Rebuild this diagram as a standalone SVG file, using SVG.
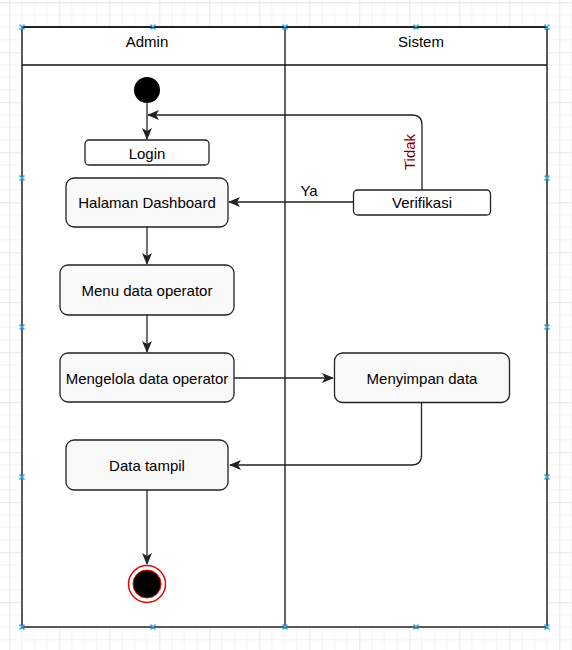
<svg xmlns="http://www.w3.org/2000/svg" width="572" height="650" viewBox="0 0 572 650">
<style>
.t{font-family:"Liberation Sans",Arial,sans-serif;font-size:15px;fill:#000;text-anchor:middle;dominant-baseline:central}
.node{fill:#f9f9f9;stroke:#222;stroke-width:1.3}
.small{fill:#fff;stroke:#222;stroke-width:1.3}
.edge{fill:none;stroke:#222;stroke-width:1.3}
.mk{stroke:#3aa8e0;stroke-width:1.5;fill:none}
</style>
<defs>
<pattern id="grid" patternUnits="userSpaceOnUse" x="9.3" y="2.3" width="50" height="50">
<path d="M12.5 0V50M25 0V50M37.5 0V50M0 12.5H50M0 25H50M0 37.5H50" stroke="#f3f3f3" stroke-width="1"/>
<path d="M0.5 0V50M0 0.5H50" stroke="#e6e6e6" stroke-width="1"/>
</pattern>
<marker id="arr" viewBox="0 0 12 10" refX="11" refY="5" markerWidth="12" markerHeight="10" markerUnits="userSpaceOnUse" orient="auto">
<path d="M0 0L12 5L0 10L3 5Z" fill="#222"/>
</marker>
</defs>
<rect width="572" height="650" fill="#fff"/>
<rect width="572" height="650" fill="url(#grid)"/>
<g id="pool">
<rect x="22" y="27" width="525" height="600" fill="#fff" stroke="#5a5a5a" stroke-width="2"/>
<path d="M22 27H547M22 65H547M285 27V627" stroke="#111" stroke-width="1.3" fill="none"/>
<text class="t" x="147" y="41">Admin</text>
<text class="t" x="421" y="41">Sistem</text>
</g>
<g id="connectors">
<path class="edge" d="M147 103V139" marker-end="url(#arr)"/>
<path class="edge" d="M422 190V125Q422 115 412 115H148" marker-end="url(#arr)"/>
<path class="edge" d="M353 202H229" marker-end="url(#arr)"/>
<path class="edge" d="M147 227V264" marker-end="url(#arr)"/>
<path class="edge" d="M147 315V352" marker-end="url(#arr)"/>
<path class="edge" d="M234 378H333" marker-end="url(#arr)"/>
<path class="edge" d="M421.5 403V455Q421.5 465 411.5 465H230" marker-end="url(#arr)"/>
<path class="edge" d="M147 490V564" marker-end="url(#arr)"/>
<text class="t" x="309" y="190">Ya</text>
<text class="t" x="409" y="152" style="fill:#800000" transform="rotate(-90 409 152)">Tidak</text>
</g>
<g id="start"><circle cx="147" cy="90" r="13" fill="#000"/></g>
<g id="login"><rect class="small" x="85" y="140" width="124" height="25" rx="4"/><text class="t" x="147" y="153">Login</text></g>
<g id="dashboard"><rect class="node" x="66" y="178" width="162" height="49" rx="8"/><text class="t" x="147" y="202.5">Halaman Dashboard</text></g>
<g id="menu"><rect class="node" x="60" y="265" width="174" height="50" rx="8"/><text class="t" x="147" y="290.5">Menu data operator</text></g>
<g id="mengelola"><rect class="node" x="60" y="353" width="174" height="49" rx="8"/><text class="t" x="147" y="378">Mengelola data operator</text></g>
<g id="menyimpan"><rect class="node" x="334.5" y="353" width="175" height="49.5" rx="8"/><text class="t" x="422" y="378">Menyimpan data</text></g>
<g id="tampil"><rect class="node" x="66" y="440" width="162" height="50" rx="8"/><text class="t" x="147" y="465.5">Data tampil</text></g>
<g id="verifikasi"><rect class="small" x="353.5" y="190" width="137" height="25" rx="4"/><text class="t" x="422" y="202.5">Verifikasi</text></g>
<g id="end"><circle cx="147" cy="584" r="18.5" fill="#fff" stroke="#e00" stroke-width="1.5"/><circle cx="147" cy="584" r="14" fill="#000" stroke="#e00" stroke-width="1"/></g>
<g id="markers">
<path class="mk" d="M19.5 24.5l5 5m0-5l-5 5M150.5 24.5l5 5m0-5l-5 5M282.5 24.5l5 5m0-5l-5 5M413.5 24.5l5 5m0-5l-5 5M544.5 24.5l5 5m0-5l-5 5"/>
<path class="mk" d="M19.5 624.5l5 5m0-5l-5 5M150.5 624.5l5 5m0-5l-5 5M282.5 624.5l5 5m0-5l-5 5M413.5 624.5l5 5m0-5l-5 5M544.5 624.5l5 5m0-5l-5 5"/>
<path class="mk" d="M19.5 175.5l5 5m0-5l-5 5M19.5 324.5l5 5m0-5l-5 5M19.5 474.5l5 5m0-5l-5 5M544.5 175.5l5 5m0-5l-5 5M544.5 324.5l5 5m0-5l-5 5M544.5 474.5l5 5m0-5l-5 5"/>
</g>
</svg>
